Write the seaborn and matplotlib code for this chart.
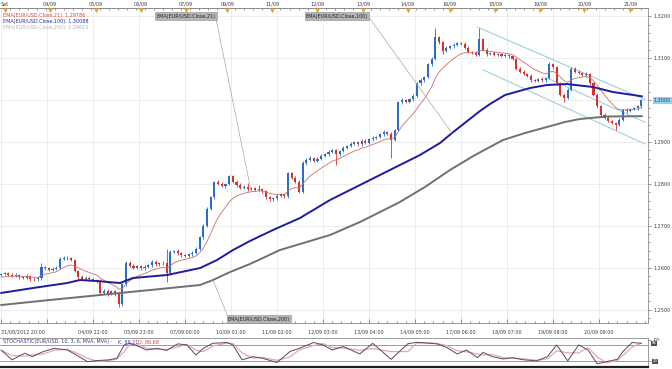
import numpy as np
import pandas as pd
import matplotlib
matplotlib.use("Agg")
import matplotlib.pyplot as plt
import matplotlib.transforms as mtrans
from matplotlib.ticker import MultipleLocator
import seaborn as sns

# EUR/USD, candles of two hourly slots each; prices kept as pips above 1.2000
BAR_HOURS = 2
first_open = 583
closes = [
    585, 586, 583, 580, 582, 578, 576, 579, 574, 572, 575, 602, 598, 595, 597, 600, 620, 624, 622, 618, 592, 578, 574, 576, 572,
    570, 568, 540, 545, 538, 543, 536, 512, 560, 612, 605, 600, 603, 598, 602, 606, 614, 608, 610, 612, 586, 637, 640, 634, 630,
    628, 632, 636, 645, 672, 700, 740, 768, 804, 800, 795, 800, 818, 805, 797, 790, 793, 788, 790, 786, 788, 782, 768, 763, 765,
    772, 775, 770, 825, 815, 805, 780, 850, 858, 862, 855, 860, 866, 870, 876, 880, 870, 878, 886, 890, 895, 900, 894, 903, 898,
    906, 910, 912, 918, 924, 920, 905, 928, 995, 1000, 996, 1002, 1010, 1040, 1048, 1055, 1085, 1098, 1150, 1138, 1118, 1125, 1128, 1132, 1136,
    1134, 1125, 1115, 1112, 1108, 1145, 1120, 1110, 1112, 1108, 1110, 1106, 1108, 1104, 1098, 1075, 1068, 1062, 1058, 1048, 1045, 1050, 1047, 1052, 1085,
    1078, 1040, 1012, 1005, 1025, 1075, 1068, 1064, 1060, 1062, 1040, 1012, 985, 965, 958, 950, 945, 940, 952, 976, 974, 978, 980, 985, 1000,
]
wick_up = [
    3, 4, 3, 3, 4, 3, 3, 5, 3, 3, 4, 10, 3, 3, 4, 3, 6, 4, 3, 3, 3, 3, 4, 3, 3,
    3, 3, 4, 5, 3, 4, 3, 3, 4, 3, 3, 4, 3, 3, 4, 3, 5, 3, 4, 3, 33, 4, 3, 4, 3,
    3, 4, 3, 3, 4, 3, 4, 3, 3, 5, 4, 3, 3, 4, 3, 4, 3, 10, 3, 3, 8, 3, 3, 4, 3,
    3, 4, 3, 3, 4, 3, 3, 4, 3, 4, 3, 3, 4, 3, 4, 3, 3, 3, 4, 3, 4, 3, 3, 4, 3,
    3, 4, 3, 3, 4, 3, 4, 3, 3, 4, 3, 3, 4, 3, 4, 3, 3, 4, 22, 3, 4, 3, 3, 4, 3,
    3, 4, 3, 3, 4, 27, 3, 4, 3, 4, 3, 3, 4, 3, 3, 3, 4, 3, 3, 4, 3, 3, 4, 3, 5,
    4, 3, 3, 4, 3, 3, 4, 3, 3, 4, 3, 3, 4, 3, 3, 4, 3, 3, 4, 3, 4, 3, 3, 4, 3,
]
wick_dn = [
    3, 3, 4, 3, 3, 4, 3, 3, 5, 3, 3, 4, 3, 3, 4, 3, 3, 3, 4, 3, 3, 4, 3, 3, 4,
    3, 4, 3, 4, 5, 3, 4, 6, 3, 3, 4, 3, 3, 4, 3, 3, 4, 3, 3, 3, 21, 3, 3, 3, 4,
    3, 3, 4, 3, 3, 4, 3, 3, 4, 3, 3, 4, 3, 3, 4, 3, 3, 4, 3, 4, 3, 3, 4, 3, 3,
    3, 4, 3, 3, 3, 4, 3, 3, 4, 3, 3, 4, 3, 3, 4, 3, 25, 3, 3, 4, 3, 3, 4, 3, 3,
    3, 4, 3, 3, 4, 3, 43, 3, 3, 4, 3, 3, 4, 3, 3, 4, 3, 3, 3, 4, 8, 3, 3, 4, 3,
    3, 4, 3, 3, 4, 3, 3, 4, 3, 3, 4, 3, 3, 4, 3, 3, 4, 3, 3, 4, 3, 3, 4, 3, 3,
    3, 4, 3, 10, 3, 3, 4, 3, 3, 4, 3, 3, 4, 3, 4, 3, 3, 12, 3, 3, 4, 3, 3, 4, 3,
]

# fast average is computed from the closes; its level at the left edge
ema21_seed = 575
# slow averages (hour index, price)
ema100_t = [0, 17.4, 35.9, 42.9, 52.2, 64.7, 71.7, 90.2, 108.2, 117.4, 126.1, 135.3, 147.8, 162.5,
            178.8, 195.1, 216.8, 227.7, 238.6, 245.1, 252.7, 260.3, 265.8, 273.9, 287.5, 296.7, 307.6,
            321.7, 332.6, 348.4]
ema100_p = [1.25394, 1.25513, 1.25632, 1.25704, 1.25680, 1.25632, 1.25752, 1.25823, 1.25990, 1.26181,
            1.26420, 1.26635, 1.26897, 1.27184, 1.27613, 1.27971, 1.28449, 1.28687, 1.28974, 1.29212,
            1.29475, 1.29737, 1.29905, 1.30119, 1.30286, 1.30358, 1.30382, 1.30310, 1.30191, 1.30088]
ema200_t = [0, 26.6, 53.8, 81, 108.2, 115.2, 124.5, 135.3, 143.5, 151.6, 162.5, 178.8, 195.1, 206,
            216.8, 230.4, 244, 257.6, 272.8, 284.8, 296.7, 306.5, 314.7, 329.3, 348.4]
ema200_p = [1.25107, 1.25227, 1.25346, 1.25465, 1.25585, 1.25704, 1.25895, 1.26086, 1.26253, 1.26420,
            1.26563, 1.26778, 1.27088, 1.27327, 1.27566, 1.27924, 1.28329, 1.28687, 1.29045, 1.29212,
            1.29356, 1.29475, 1.29547, 1.29606, 1.29615]
ema_names = ["21", "100", "200"]
ema_last = ["1,29786", "1,30088", "1,29615"]
ema_legend_colors = ["#d04a3a", "#2a2a9a", "#b4b4b4"]

# stochastic (hour index, %K, %D)
stoch_t = [0, 6, 13, 17, 23, 29, 36, 41, 47, 52, 59, 63, 67, 70, 75, 79, 85, 90, 96, 101,
           106, 110, 115, 123, 126, 131, 137, 142, 150, 157, 162, 170, 175, 180, 186, 195, 202, 212, 221, 226,
           233, 237, 242, 248, 253, 259, 262, 267, 273, 278, 284, 291, 297, 302, 308, 314, 319, 324, 329, 335,
           338, 343, 348]
stoch_k = [61, 24, 49, 36, 55, 67, 61, 42, 17, 21, 24, 30, 80, 86, 74, 61, 67, 59, 84, 80,
           42, 67, 86, 89, 80, 24, 36, 30, 14, 55, 67, 89, 80, 61, 74, 46, 86, 26, 84, 90,
           86, 84, 71, 46, 61, 32, 52, 36, 27, 32, 24, 20, 36, 80, 20, 80, 61, 9, 17, 26,
           55, 89, 86]
stoch_d = [60, 40, 38, 42, 46, 60, 64, 50, 30, 19, 22, 27, 55, 82, 80, 68, 64, 63, 72, 82,
           60, 55, 76, 87, 85, 50, 30, 33, 22, 35, 61, 78, 85, 70, 68, 60, 66, 55, 55, 87,
           88, 85, 78, 58, 54, 46, 42, 44, 32, 30, 28, 22, 28, 58, 50, 50, 70, 35, 13, 22,
           40, 72, 87]

# trend channel drawn by hand on the chart (hour index, price)
channel_t = [[259, 350], [297, 350], [262, 350]]
channel_p = [[1.3174, 1.3001], [1.3052, 1.2947], [1.3072, 1.2895]]

bottom_ticks = [0, 25, 50, 75, 100, 125, 150, 175, 200, 225, 250, 275, 300, 325]
bottom_labels = ["31/08/2012 20:00", "", "04/09 22:00", "05/09 23:00", "07/09 00:00", "10/09 01:00",
                 "11/09 02:00", "12/09 03:00", "13/09 04:00", "14/09 05:00", "17/09 06:00",
                 "18/09 07:00", "19/09 08:00", "20/09 09:00"]
top_ticks = [2, 26.5, 51.5, 76, 100.5, 123, 147.5, 172, 197, 221, 244, 268.5, 293, 317, 342]
top_labels = ["Sat", "04/09", "05/09", "06/09", "07/09", "09/09", "11/09", "12/09", "13/09",
              "14/09", "16/09", "18/09", "19/09", "20/09", "21/09"]

UP, DOWN = "#2a6cc6", "#d8302c"
TXT = "#404040"
FS = 3.5

sns.set_theme(style="white")
plt.rcParams['font.family'] = ['DejaVu Sans']

c = np.array(closes) / 10000 + 1.2
o = np.r_[first_open / 10000 + 1.2, c[:-1]]
hi = np.maximum(o, c) + np.array(wick_up) / 10000
lo = np.minimum(o, c) - np.array(wick_dn) / 10000
t = np.arange(len(c)) * BAR_HOURS
col = np.where(c >= o, UP, DOWN)

alpha21 = 1 - (1 - 2 / 22) ** BAR_HOURS
ema21 = pd.Series(np.r_[ema21_seed / 10000 + 1.2, c]).ewm(alpha=alpha21, adjust=False).mean().values[1:]

fig = plt.figure(figsize=(6.72, 3.69), dpi=100)
ax = fig.add_axes([0, 46 / 369, 648 / 672, 315 / 369])
ax_st = fig.add_axes([0, 2 / 369, 648 / 672, 29 / 369], sharex=ax)

ax.set_xlim(-1 / 1.84, 647 / 1.84)
ax.set_ylim(1.24678, 1.32196)

ax.grid(True, which="major", color="#e9e9e9", lw=0.6)
ax.set_axisbelow(True)

# channel
for ct, cp in zip(channel_t, channel_p):
    ax.plot(ct, cp, color="#9ed0de", lw=0.8, zorder=2)

# candles
ax.vlines(t, lo, hi, colors=col, lw=0.6, zorder=3)
ax.bar(t, np.maximum(np.abs(c - o), 0.00012), bottom=np.minimum(o, c), width=1.15,
       color=col, lw=0, zorder=3)

sns.lineplot(x=t, y=ema21, ax=ax, color="#c8706a", lw=0.6, zorder=4)
sns.lineplot(x=ema100_t, y=ema100_p, ax=ax, color="#1c1c9c", lw=1.4, zorder=4)
sns.lineplot(x=ema200_t, y=ema200_p, ax=ax, color="#707070", lw=1.4, zorder=4)

# callout boxes
box = dict(boxstyle="square,pad=0.25", fc="#b6b6b6", ec="#8c8c8c", lw=0.4)
ann = [("EMA(EUR/USD.Close,21)", (t[68], ema21[68]), 100.5, 1.32005, (1, 0.5)),
       ("EMA(EUR/USD.Close,100)", (ema100_t[19], ema100_p[19]), 182.6, 1.32005, (1, 0.5)),
       ("EMA(EUR/USD.Close,200)", (ema200_t[5], ema200_p[5]), 140.2, 1.24773, (0, 1))]
for txt, xy, tx, ty, rp in ann:
    ax.annotate(txt, xy=xy, xytext=(tx, ty), fontsize=FS, color="#202020",
                ha="center", va="center", bbox=box, zorder=6,
                arrowprops=dict(arrowstyle="-", color="#a8a8a8", lw=0.5, relpos=rp, shrinkA=0, shrinkB=0))

# axes styling
ax.spines["left"].set_visible(False)
for side in ["top", "right", "bottom"]:
    ax.spines[side].set_color("#8a8a8a")
    ax.spines[side].set_linewidth(0.6)
ax.set_xlabel("")
ax.set_ylabel("")

ax.yaxis.tick_right()
yt = np.round(np.arange(1.25, 1.3201, 0.01), 2)
ax.set_yticks(yt, labels=[f"{v:.4f}".replace(".", ",") for v in yt])
ax.yaxis.set_minor_locator(MultipleLocator(0.002))
ax.tick_params(axis="y", which="both", right=True, direction="out", labelsize=FS, colors=TXT,
               pad=1.5, length=2.5, width=0.4)
ax.tick_params(axis="y", which="minor", length=1.5)
for lbl, v in zip(ax.get_yticklabels(), yt):
    if abs(v - 1.30) < 1e-9:
        lbl.set_bbox(dict(boxstyle="square,pad=0.2", fc="#8fd2f2", ec="none"))

ax.set_xticks(bottom_ticks, labels=bottom_labels)
ax.get_xticklabels()[0].set_ha("left")
ax.xaxis.set_minor_locator(MultipleLocator(5))
ax.tick_params(axis="x", which="both", bottom=True, direction="in", labelsize=FS, colors=TXT,
               pad=5, length=3, width=0.4)
ax.tick_params(axis="x", which="minor", length=1.5)

top = ax.secondary_xaxis("top")
top.set_xticks(top_ticks, labels=top_labels)
top.xaxis.set_minor_locator(MultipleLocator(4.9))
top.tick_params(which="both", direction="in", labelsize=FS, colors=TXT, pad=1, length=2.5, width=0.4)
top.tick_params(which="minor", length=1.5)
top.spines["top"].set_color("#8a8a8a")
top.spines["top"].set_linewidth(0.6)

# event markers on the date axis
trans = mtrans.blended_transform_factory(ax.transData, ax.transAxes)
ax.plot(top_ticks, [0.993] * len(top_ticks), ls="none", marker="v", ms=3, color="#f0a830",
        mec="#c88a20", mew=0.3, transform=trans, clip_on=False, zorder=7)

# legend of the moving averages
for k, (name, val, colr) in enumerate(zip(ema_names, ema_last, ema_legend_colors)):
    fig.text(3 / 672, 1 - (15 + 6 * k) / 369, f"EMA(EUR/USD.Close,{name}): {val}",
             fontsize=FS, color=colr, va="center", ha="left")

# stochastic panel
st_df = pd.DataFrame({"t": stoch_t, "k": stoch_k, "d": stoch_d})
ax_st.axhline(80, color="#8c8c8c", lw=0.6)
ax_st.axhline(20, color="#8c8c8c", lw=0.6)
sns.lineplot(data=st_df, x="t", y="d", ax=ax_st, color="#e2a8b8", lw=0.9, legend=False)
sns.lineplot(data=st_df, x="t", y="k", ax=ax_st, color="#5e4466", lw=0.7, legend=False)
ax_st.set_ylim(-3, 106)
ax_st.set_xlabel("")
ax_st.set_ylabel("")
ax_st.tick_params(axis="x", which="both", bottom=False, labelbottom=False)
ax_st.yaxis.tick_right()
ax_st.set_yticks([20, 100], labels=["20", "100"])
ax_st.tick_params(axis="y", labelsize=2.8, colors=TXT, pad=1.5, length=2, width=0.4)
ax_st.get_yticklabels()[0].set_bbox(dict(boxstyle="square,pad=0.15", fc="#505050", ec="none"))
ax_st.get_yticklabels()[0].set_color("white")
ax_st.text(1.006, stoch_k[-1], f"{stoch_k[-1]}",
           transform=mtrans.blended_transform_factory(ax_st.transAxes, ax_st.transData),
           fontsize=2.8, color="white", va="center", ha="left",
           bbox=dict(boxstyle="square,pad=0.15", fc="#505050", ec="none"), clip_on=False)
ax_st.spines["left"].set_visible(False)
for side in ["top", "right"]:
    ax_st.spines[side].set_color("#8a8a8a")
    ax_st.spines[side].set_linewidth(0.6)
ax_st.spines["bottom"].set_color("#202020")
ax_st.spines["bottom"].set_linewidth(1.6)

y_st = 1 - 342 / 369
fig.text(3 / 672, y_st, "STOCHASTIC(EUR/USD, 10, 3, 6, MVA, MVA) -", fontsize=FS, color="#3a3a8a", va="center")
fig.text(118 / 672, y_st, "K: 86.21", fontsize=FS, color="#3a4ab0", va="center")
fig.text(138 / 672, y_st, "D: 86.68", fontsize=FS, color="#d04040", va="center")

fig.savefig("out.png", dpi=100)
